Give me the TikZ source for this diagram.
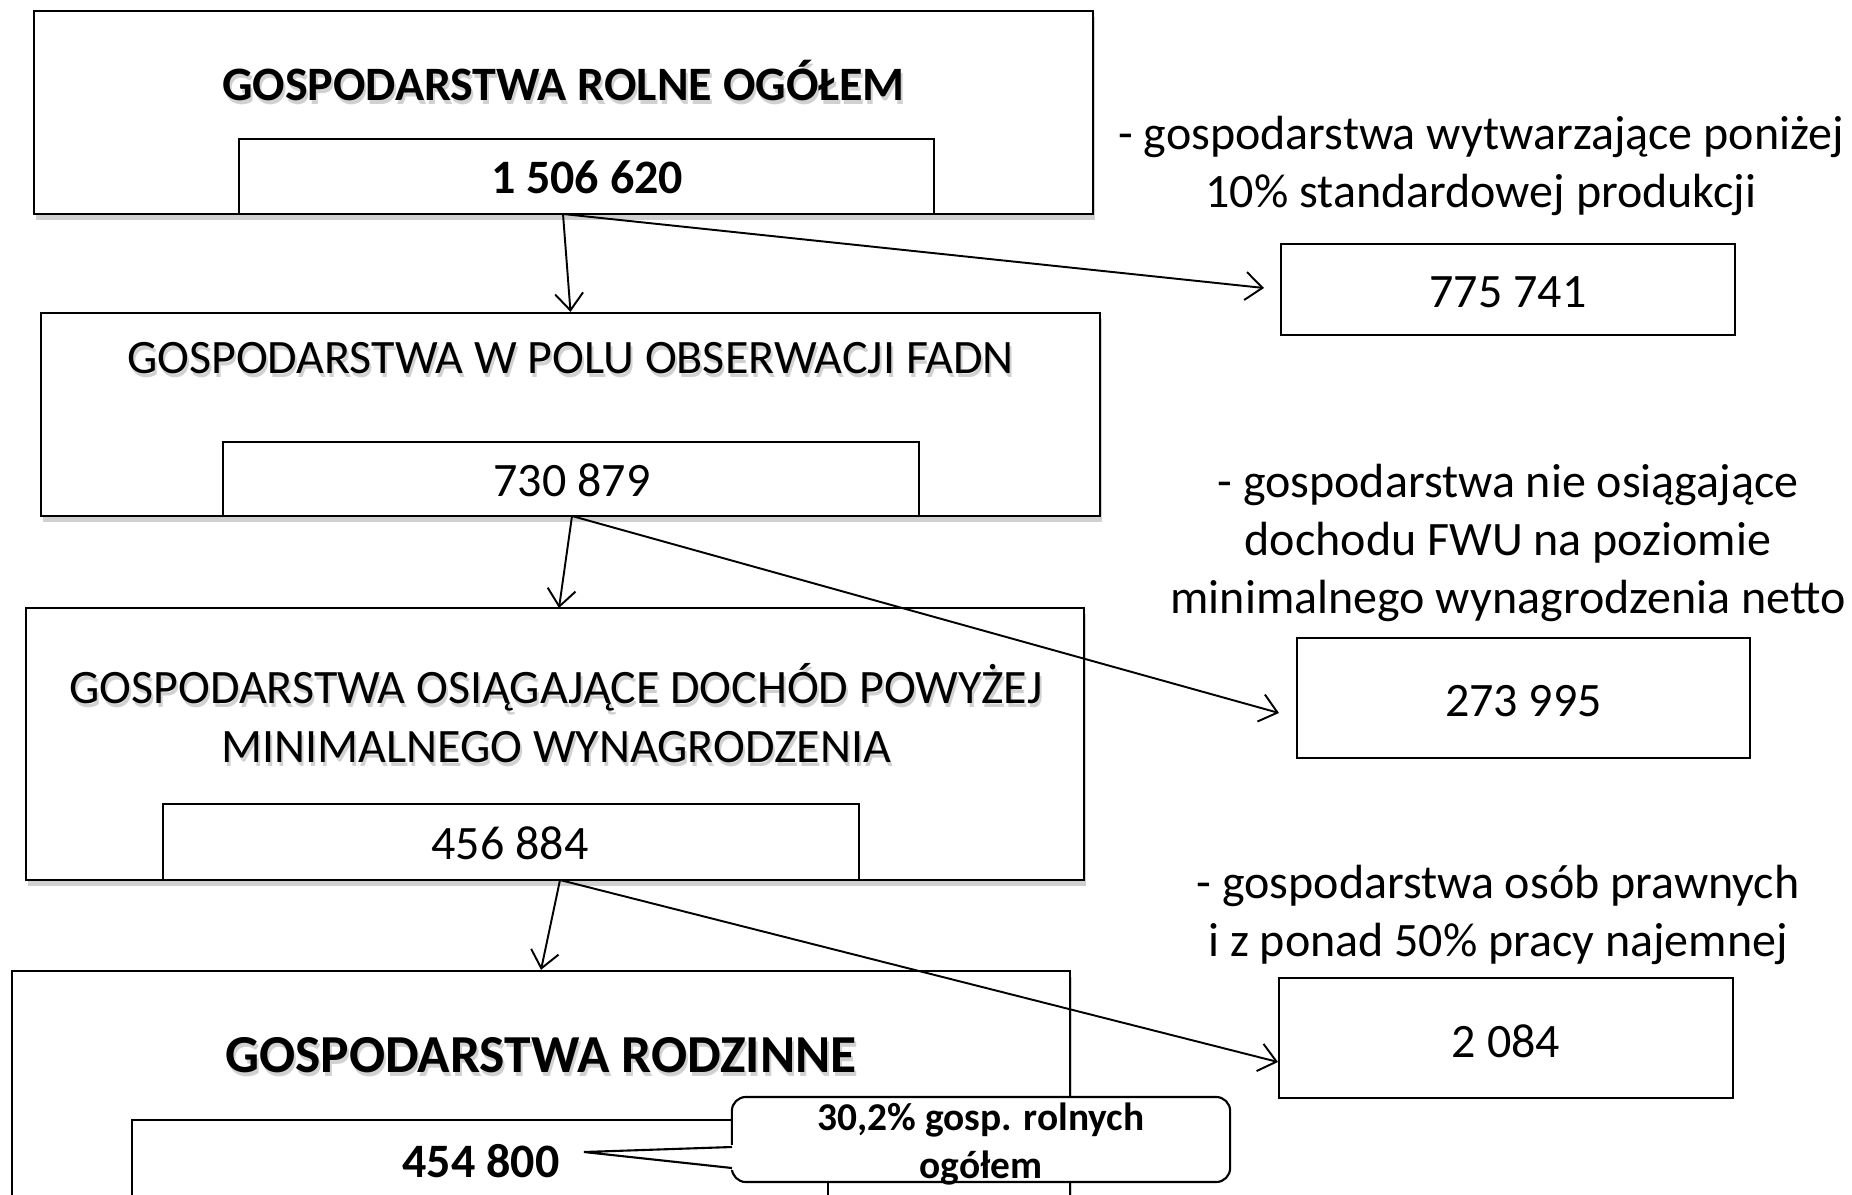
\documentclass[tikz,border=0pt]{standalone}
\usepackage{fontspec}
\setmainfont{Carlito}
\usetikzlibrary{arrows.meta,shadows,calc}
\tikzset{
  outerbox/.style={draw, line width=0.6pt, fill=white, inner sep=0pt,
    drop shadow={shadow xshift=0.02cm, shadow yshift=-0.06cm, opacity=0.3, fill=black!60}},
  innerbox/.style={draw, line width=0.6pt, fill=white, inner sep=0pt},
  rbox/.style={draw, line width=0.6pt, fill=white, inner sep=0pt},
  arr/.style={-{Straight Barb[length=0.17cm,width=0.28cm]}, line width=0.55pt},
  ttl/.style={font=\fontsize{13.65}{16.6}\selectfont, align=center, inner sep=0pt},
  ttlb/.style={font=\fontsize{13.65}{16.6}\selectfont\bfseries, align=center, inner sep=0pt},
  ttlbig/.style={font=\fontsize{15.2}{18}\selectfont\bfseries, align=center, inner sep=0pt},
  shd/.style={text=black!45, opacity=0.4},
  side/.style={font=\fontsize{13.65}{16.6}\selectfont, align=center, inner sep=0pt},
  num/.style={font=\fontsize{13.65}{16.6}\selectfont, inner sep=0pt},
  numb/.style={font=\fontsize{13.65}{16.6}\selectfont\bfseries, inner sep=0pt},
  callbox/.style={draw, line width=0.6pt, fill=white, rounded corners=0.14cm, inner sep=0pt},
  calltxt/.style={font=\fontsize{11.2}{13.4}\selectfont\bfseries, align=center, inner sep=0pt}
}
\newcommand\shtitle[4]{%
  \node[#3, shd] (#1s) at ($(#2)+(2,4)$) {#4};
  \node[#3] (#1) at (#2) {#4};}
\begin{document}
\begin{tikzpicture}[x=0.01cm,y=-0.01cm]
\useasboundingbox (0,0) rectangle (1852,1194);
\clip (0,0) rectangle (1852,1194);
\fill[white] (0,0) rectangle (1852,1194);

% outer boxes
\node[outerbox, minimum width=10.59cm, minimum height=2.03cm] (b1) at (563.5,112.5) {};
\node[outerbox, minimum width=10.59cm, minimum height=2.03cm] (b2) at (570.5,414.5) {};
\node[outerbox, minimum width=10.58cm, minimum height=2.72cm] (b3) at (555,744) {};
\node[outerbox, minimum width=10.58cm, minimum height=3.0cm] (b4) at (541,1121) {};

% inner boxes
\node[innerbox, minimum width=6.95cm, minimum height=0.75cm] (i1) at (586.5,176.5) {};
\node[innerbox, minimum width=6.96cm, minimum height=0.74cm] (i2) at (571,479) {};
\node[innerbox, minimum width=6.96cm, minimum height=0.76cm] (i3) at (511,842) {};
\node[innerbox, minimum width=6.96cm, minimum height=1.3cm] (i4) at (480,1185) {};

% titles with soft shadows
\coordinate (p1) at (563.5,81);
\coordinate (p2) at (570.5,358);
\coordinate (p3) at (556,713);
\coordinate (p4) at (541,1055);
\shtitle{t1}{p1}{ttlb}{GOSPODARSTWA ROLNE OGÓŁEM}
\shtitle{t2}{p2}{ttl}{GOSPODARSTWA W POLU OBSERWACJI FADN}
\shtitle{t3}{p3}{ttl}{GOSPODARSTWA OSIĄGAJĄCE DOCHÓD POWYŻEJ\\MINIMALNEGO WYNAGRODZENIA}
\shtitle{t4}{p4}{ttlbig}{GOSPODARSTWA RODZINNE}

% numbers
\node[numb] (n1) at (587,177) {1 506 620};
\node[num] (n2) at (572,480) {730 879};
\node[num] (n3) at (510,843) {456 884};
\node[numb] (n4) at (481,1161) {454 800};

% right boxes
\node[rbox, minimum width=4.54cm, minimum height=0.91cm] (r1) at (1508,289.5) {};
\node[num] (r1t) at ($(r1)+(0,3)$) {775 741};
\node[rbox, minimum width=4.53cm, minimum height=1.2cm] (r2) at (1523.5,698) {};
\node[num] (r2t) at ($(r2)+(0,3)$) {273 995};
\node[rbox, minimum width=4.54cm, minimum height=1.2cm] (r3) at (1506,1038) {};
\node[num] (r3t) at ($(r3)+(0,3)$) {2 084};

% side texts
\node[side] (s1) at (1481,166) {- gospodarstwa wytwarzające poniżej\\10\% standardowej produkcji};
\node[side] (s2) at (1508,543) {- gospodarstwa nie osiągające\\dochodu FWU na poziomie\\minimalnego wynagrodzenia netto};
\node[side] (s3) at (1498,915) {- gospodarstwa osób prawnych\\i z ponad 50\% pracy najemnej};

% arrow anchors
\coordinate (a1) at (563,214);
\coordinate (a2) at (572,516);
\coordinate (a3) at (560,880);
\coordinate (e1) at (1264,288);
\coordinate (e2) at (559,608);
\coordinate (e3) at (1279,713);
\coordinate (e4) at (1278,1062);

\draw[arr] (a1) -- (b2.north);
\draw[arr] (a1) -- (e1);
\draw[arr] (a2) -- (e2);
\draw[arr] (a2) -- (e3);
\draw[arr] (a3) -- (b4.north);
\draw[arr] (a3) -- (e4);

% callout
\node[callbox, minimum width=4.98cm, minimum height=0.85cm] (cal) at (981,1139.5) {};
\coordinate (ctip) at (584,1152);
\fill[white] (ctip) -- (734,1145) -- (734,1170) -- cycle;
\draw[line width=0.6pt, line join=miter] (732,1147) -- (ctip) -- (732,1168);
\node[calltxt] (calt) at (981,1144) {30,2\% gosp. rolnych\\ogółem};
\end{tikzpicture}
\end{document}
